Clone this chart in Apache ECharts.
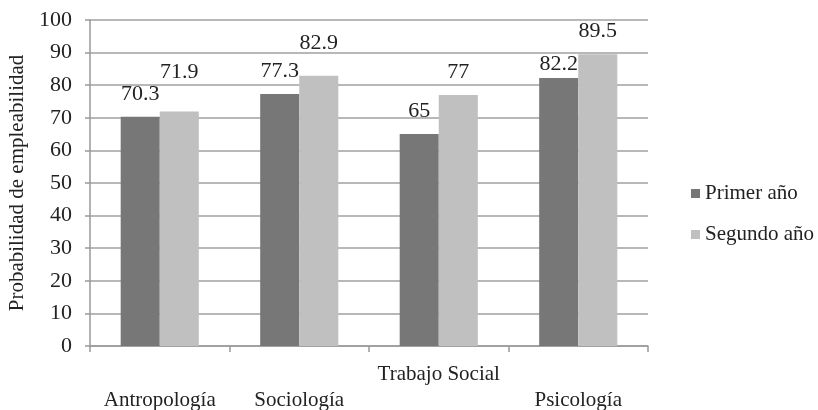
<!DOCTYPE html>
<html>
<head>
<meta charset="utf-8">
<script src="https://cdn.jsdelivr.net/npm/echarts@6/dist/echarts.min.js"></script>
<style>html,body{margin:0;padding:0;background:#fff}#c{width:818px;height:410px}</style>
</head>
<body>
<div id="c"></div>
<script>
var categories = ['Antropología', 'Sociología', 'Trabajo Social', 'Psicología'];
var primerAno = [70.3, 77.3, 65, 82.2];
var segundoAno = [71.9, 82.9, 77, 89.5];
var yTicks = [0, 10, 20, 30, 40, 50, 60, 70, 80, 90, 100];

var FONT = '"Liberation Serif", "DejaVu Serif", serif';
// label vertical nudges (style only)
var liftPrimer = [0, 0, 0, -9];
var liftSegundo = [16, 10, 0, 0];

function withLabels(values, lifts) {
  return values.map(function (v, i) {
    return { value: v, label: { offset: [0, -lifts[i]] } };
  });
}

var chart = echarts.init(document.getElementById('c'));
chart.setOption({
  animation: false,
  textStyle: { fontFamily: FONT },
  grid: { left: 90, right: 170, top: 20, bottom: 64, containLabel: false, outerBoundsMode: 'none' },
  legend: {
    orient: 'vertical',
    left: 686,
    top: 178,
    itemWidth: 9,
    itemHeight: 9,
    itemGap: 20,
    icon: 'rect',
    textStyle: { fontFamily: FONT, fontSize: 21, color: '#222' },
    data: ['Primer año', 'Segundo año']
  },
  xAxis: {
    type: 'category',
    data: categories,
    axisLine: { lineStyle: { color: '#999', width: 1.5 } },
    axisTick: { show: true, length: 6, lineStyle: { color: '#999', width: 1.5 } },
    axisLabel: {
      interval: 0,
      margin: 15,
      fontFamily: FONT,
      fontSize: 21,
      color: '#222',
      lineHeight: 26,
      formatter: function (v, i) { return i === 2 ? v : '\n' + v; }
    }
  },
  yAxis: {
    type: 'value',
    min: yTicks[0],
    max: yTicks[yTicks.length - 1],
    interval: 10,
    name: 'Probabilidad de empleabilidad',
    nameLocation: 'middle',
    nameGap: 59,
    nameTextStyle: { fontFamily: FONT, fontSize: 21, color: '#222' },
    axisLine: { show: true, lineStyle: { color: '#999', width: 1.5 } },
    axisTick: { show: true, length: 5, lineStyle: { color: '#999', width: 1.5 } },
    axisLabel: { margin: 18, fontFamily: FONT, fontSize: 22, color: '#222' },
    splitLine: { lineStyle: { color: '#a0a0a0', width: 1.5 } }
  },
  series: [
    {
      name: 'Primer año',
      type: 'bar',
      barGap: '0%',
      barCategoryGap: '44%',
      itemStyle: { color: '#777777' },
      label: { show: true, position: 'top', distance: 12, fontFamily: FONT, fontSize: 22, color: '#222' },
      data: withLabels(primerAno, liftPrimer)
    },
    {
      name: 'Segundo año',
      type: 'bar',
      barGap: '0%',
      barCategoryGap: '44%',
      itemStyle: { color: '#c0c0c0' },
      label: { show: true, position: 'top', distance: 12, fontFamily: FONT, fontSize: 22, color: '#222' },
      data: withLabels(segundoAno, liftSegundo)
    }
  ]
});
</script>
</body>
</html>
